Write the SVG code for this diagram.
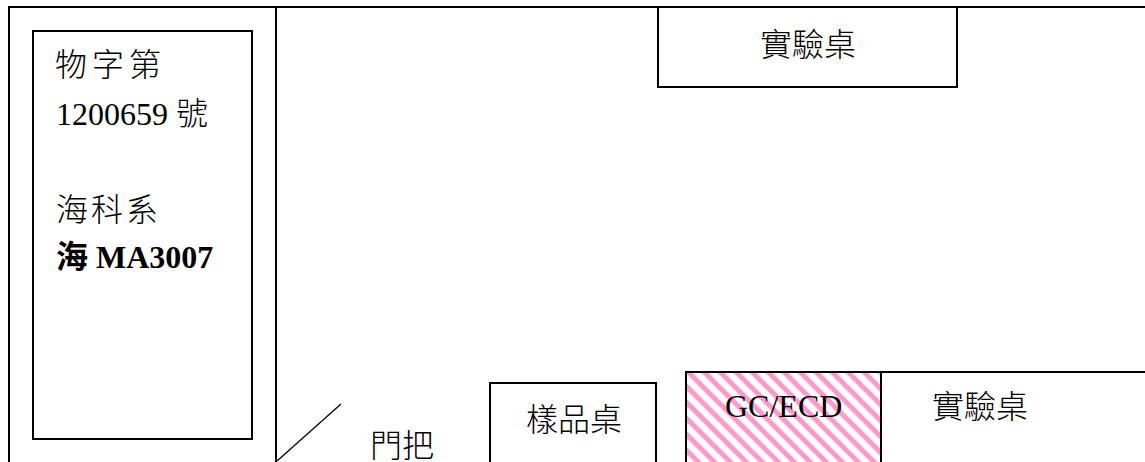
<svg xmlns="http://www.w3.org/2000/svg" width="1145" height="462" viewBox="0 0 1145 462">
<style>
.l{fill:none;stroke:#000;stroke-width:2}
.w{fill:#fff;stroke:#000;stroke-width:2}
text{font-family:"Liberation Serif","Noto Sans CJK TC",serif;font-size:32px;fill:#000}
.cjk{font-family:"Noto Sans CJK TC",serif;font-weight:300}
</style>
<defs>
<pattern id="h" width="11.3" height="11.3" patternUnits="userSpaceOnUse" patternTransform="rotate(45)">
<rect width="11.3" height="11.3" fill="#fff"/>
<rect y="0" width="11.3" height="5" fill="#ff99cc"/>
</pattern>
</defs>
<rect width="1145" height="462" fill="#fff"/>
<g id="room">
<path class="l" d="M9 462V7H1145"/>
<path class="l" d="M276 7V462"/>
</g>
<g id="sign">
<rect class="w" x="33" y="31" width="219" height="408"/>
<text class="cjk" x="55" y="76" font-size="28" letter-spacing="5">物字第</text>
<text x="56" y="125" font-size="28">1200659 <tspan class="cjk">號</tspan></text>
<text class="cjk" x="56" y="221" font-size="28" letter-spacing="3">海科系</text>
<text x="56" y="268" font-size="28" font-weight="700"><tspan class="cjk" style="font-weight:700">海</tspan> MA3007</text>
</g>
<g id="bench-top">
<rect class="w" x="658" y="7" width="299" height="80"/>
<text class="cjk" x="760" y="56" font-size="31">實驗桌</text>
</g>
<g id="door">
<path d="M277 461L341 404" fill="none" stroke="#000" stroke-width="1.3"/>
<text class="cjk" x="370" y="457" font-size="31">門把</text>
</g>
<g id="sample-table">
<path class="w" d="M490 462V383H656V462"/>
<text class="cjk" x="526" y="431" font-size="31">樣品桌</text>
</g>
<g id="bench-bottom">
<path class="l" d="M881 372H1145"/>
<text class="cjk" x="932" y="418" font-size="31">實驗桌</text>
</g>
<g id="gc-ecd">
<path d="M686 462V372H881V462" fill="url(#h)" stroke="#000" stroke-width="2"/>
<text x="725" y="417" font-size="32">GC/ECD</text>
</g>
</svg>
